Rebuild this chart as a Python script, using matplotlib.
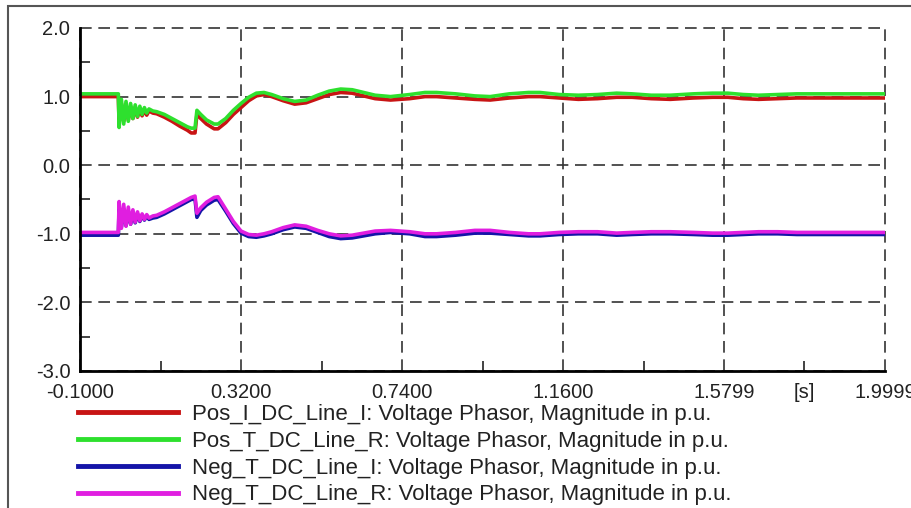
import matplotlib
matplotlib.use("Agg")
import matplotlib.pyplot as plt
from matplotlib.patches import Rectangle

plt.rcParams['font.family'] = ['Liberation Sans', 'DejaVu Sans']

# time axis [s]
t = [-0.1, 0.0, 0.002, 0.008, 0.014, 0.02, 0.026, 0.032, 0.038, 0.044,
     0.05, 0.056, 0.062, 0.068, 0.074, 0.08, 0.09, 0.1,
     0.12, 0.14, 0.16, 0.18, 0.19, 0.2, 0.205, 0.215, 0.23, 0.25, 0.26, 0.28, 0.3,
     0.32, 0.34, 0.36, 0.38, 0.4, 0.43, 0.46, 0.49, 0.52, 0.55, 0.58, 0.61, 0.64, 0.67, 0.71,
     0.76, 0.8, 0.83, 0.88, 0.93, 0.97, 1.02, 1.07, 1.1, 1.15, 1.2, 1.25, 1.3, 1.34,
     1.39, 1.44, 1.5, 1.55, 1.59, 1.63, 1.67, 1.72, 1.77, 1.83, 1.88, 1.94, 2.0]

# voltage magnitudes [p.u.]
pos_i = [1.00, 1.00, 0.62, 0.90, 0.64, 0.88, 0.66, 0.86, 0.68, 0.84,
         0.70, 0.82, 0.72, 0.80, 0.73, 0.79, 0.76, 0.75,
         0.70, 0.64, 0.57, 0.51, 0.47, 0.47, 0.74, 0.68, 0.60, 0.53, 0.53, 0.62, 0.74,
         0.84, 0.94, 1.01, 1.03, 1.00, 0.94, 0.89, 0.91, 0.97, 1.03, 1.06, 1.05, 1.01, 0.97, 0.95,
         0.97, 1.00, 1.00, 0.98, 0.96, 0.95, 0.98, 1.00, 1.00, 0.98, 0.96, 0.97, 0.99, 0.99,
         0.97, 0.96, 0.98, 0.99, 0.99, 0.97, 0.96, 0.97, 0.98, 0.98, 0.98, 0.98, 0.98]

pos_r = [1.04, 1.04, 0.55, 0.96, 0.60, 0.93, 0.64, 0.90, 0.68, 0.88,
         0.71, 0.86, 0.74, 0.84, 0.76, 0.82, 0.79, 0.78,
         0.74, 0.68, 0.62, 0.56, 0.54, 0.54, 0.80, 0.74, 0.66, 0.60, 0.60, 0.68, 0.80,
         0.90, 0.99, 1.05, 1.06, 1.03, 0.97, 0.93, 0.95, 1.02, 1.08, 1.11, 1.10, 1.06, 1.02, 1.00,
         1.03, 1.06, 1.06, 1.04, 1.01, 1.00, 1.04, 1.06, 1.06, 1.03, 1.02, 1.03, 1.05, 1.04,
         1.02, 1.02, 1.04, 1.05, 1.05, 1.03, 1.02, 1.03, 1.04, 1.04, 1.04, 1.04, 1.04]

neg_i = [-1.02, -1.02, -0.62, -0.90, -0.64, -0.88, -0.67, -0.86, -0.69, -0.84,
         -0.71, -0.82, -0.73, -0.80, -0.74, -0.79, -0.77, -0.76,
         -0.71, -0.65, -0.59, -0.53, -0.50, -0.49, -0.76, -0.66, -0.58, -0.51, -0.50, -0.67, -0.85,
         -0.99, -1.04, -1.05, -1.03, -1.00, -0.94, -0.90, -0.92, -0.98, -1.04, -1.07, -1.06, -1.03, -1.00, -0.98,
         -1.00, -1.04, -1.04, -1.02, -0.99, -0.99, -1.01, -1.03, -1.03, -1.01, -1.00, -1.00, -1.02, -1.01,
         -1.00, -1.00, -1.01, -1.02, -1.02, -1.01, -1.00, -1.00, -1.01, -1.01, -1.01, -1.01, -1.01]

neg_r = [-0.98, -0.98, -0.53, -0.92, -0.57, -0.89, -0.61, -0.86, -0.65, -0.83,
         -0.68, -0.81, -0.71, -0.79, -0.72, -0.77, -0.74, -0.73,
         -0.68, -0.62, -0.56, -0.50, -0.47, -0.45, -0.70, -0.62, -0.54, -0.47, -0.46, -0.64, -0.82,
         -0.96, -1.01, -1.02, -1.00, -0.97, -0.91, -0.87, -0.89, -0.95, -1.00, -1.03, -1.02, -0.99, -0.96, -0.95,
         -0.97, -1.00, -1.00, -0.98, -0.95, -0.95, -0.98, -1.00, -1.00, -0.98, -0.97, -0.97, -0.99, -0.98,
         -0.97, -0.97, -0.98, -0.99, -0.99, -0.98, -0.97, -0.97, -0.98, -0.98, -0.98, -0.98, -0.98]

labels = ["Pos_I_DC_Line_I: Voltage Phasor, Magnitude in p.u.",
          "Pos_T_DC_Line_R: Voltage Phasor, Magnitude in p.u.",
          "Neg_T_DC_Line_I: Voltage Phasor, Magnitude in p.u.",
          "Neg_T_DC_Line_R: Voltage Phasor, Magnitude in p.u."]
colors = ['#c81414', '#2ee02e', '#1414a8', '#e01ee0']

xticks = [-0.1, 0.32, 0.74, 1.16, 1.5799, 1.9999]
xtick_labels = ['-0.1000', '0.3200', '0.7400', '1.1600', '1.5799', '1.9999']
xminor = [0.11, 0.53, 0.95, 1.37, 1.7899]
xminor_labels = ['', '', '', '', '[s]']
yticks = [-3, -2, -1, 0, 1, 2]
ytick_labels = ['-3.0', '-2.0', '-1.0', '0.0', '1.0', '2.0']
yminor = [-2.5, -1.5, -0.5, 0.5, 1.5]

fig = plt.figure(figsize=(9.12, 5.08), dpi=100)
ax = fig.add_axes([80/912, 137/508, 805/912, 343/508])

for vals, c, lab in zip([pos_i, pos_r, neg_i, neg_r], colors, labels):
    ax.plot(t, vals, color=c, lw=2.6, label=lab)

ax.set_xlim(-0.1, 1.9999)
ax.set_ylim(-3, 2)
ax.set_xticks(xticks)
ax.set_xticklabels(xtick_labels)
ax.set_xticks(xminor, minor=True)
ax.set_xticklabels(xminor_labels, minor=True)
ax.set_yticks(yticks)
ax.set_yticklabels(ytick_labels)
ax.set_yticks(yminor, minor=True)

ax.tick_params(which='major', length=0, labelsize=14.5, colors='#222222')
ax.tick_params(axis='x', which='both', pad=8.5)
ax.tick_params(axis='y', which='major', pad=7)
ax.tick_params(which='minor', length=7, width=1.2, direction='in',
               labelsize=14.5, labelcolor='#222222', color='#222222')

ax.grid(which='major', color='#333333', linestyle=(0, (7, 4)), lw=1.2)
for gl in ax.get_xgridlines() + ax.get_ygridlines():
    gl.set_clip_on(False)

for s in ['top', 'right']:
    ax.spines[s].set_visible(False)
for s in ['left', 'bottom']:
    ax.spines[s].set_linewidth(2)
    ax.spines[s].set_color('black')

leg = fig.legend(loc='upper left', bbox_to_anchor=(78/912, 1 - 404/508),
                 frameon=False, fontsize=16, handlelength=4.5, handletextpad=0.63,
                 labelspacing=0.26, borderpad=0, borderaxespad=0)
for line in leg.get_lines():
    line.set_linewidth(3.5)
for txt in leg.get_texts():
    txt.set_color('#222222')

fig.add_artist(Rectangle((8/912, -0.1), 1.2, 1.1 - 6/508, transform=fig.transFigure,
                         fill=False, edgecolor='#555555', lw=1.5))

fig.savefig('out.png', dpi=100)
